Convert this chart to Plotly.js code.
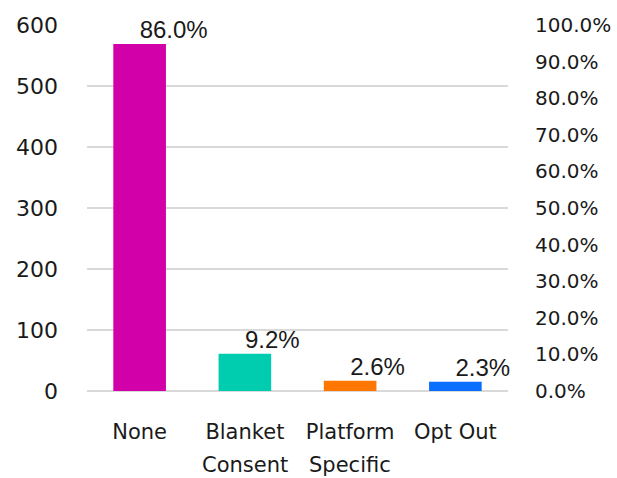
<!DOCTYPE html>
<html>
<head>
<meta charset="utf-8">
<script src="https://cdn.plot.ly/plotly-3.0.1.min.js"></script>
<style>html,body{margin:0;padding:0;background:#fff;}</style>
</head>
<body>
<div id="chart" style="width:617px;height:478px;"></div>
<script>
var categories = ["None", "Blanket Consent", "Platform Specific", "Opt Out"];
var tickLine1 = ["None", "Blanket", "Platform", "Opt Out"];
var tickLine2 = ["", "Consent", "Specific", ""];
var counts = [569, 61, 17, 15];
var pctLabels = ["86.0%", "9.2%", "2.6%", "2.3%"];
var barColors = ["#D100A8", "#00CCB0", "#FF7700", "#0A6EFF"];

var leftFont = {family: "'DejaVu Sans', sans-serif", size: 22, color: "#1a1a1a"};
var rightFont = {family: "'DejaVu Sans', sans-serif", size: 20, color: "#1a1a1a"};
var catFont = {family: "'DejaVu Sans', sans-serif", size: 21, color: "#1a1a1a"};

var bars = {
  type: "bar",
  x: categories,
  y: counts,
  marker: {color: barColors},
  hoverinfo: "skip",
  xaxis: "x",
  yaxis: "y"
};

var labels = {
  type: "scatter",
  mode: "text",
  x: categories,
  y: counts,
  text: pctLabels,
  textposition: "top right",
  textfont: {family: "'Liberation Sans', Arial, sans-serif", size: 24, color: "#1a1a1a"},
  hoverinfo: "skip",
  cliponaxis: false,
  xaxis: "x",
  yaxis: "y"
};

var pctAxisDummy = {
  type: "scatter",
  mode: "none",
  x: [categories[0]],
  y: [0],
  xaxis: "x",
  yaxis: "y2",
  hoverinfo: "skip"
};

var secondLine = [];
for (var i = 0; i < categories.length; i++) {
  if (tickLine2[i]) {
    secondLine.push({
      xref: "x", yref: "paper",
      x: categories[i], y: 0,
      xanchor: "center", yanchor: "top",
      yshift: -60,
      showarrow: false,
      text: tickLine2[i],
      font: catFont
    });
  }
}

var layout = {
  width: 617,
  height: 478,
  margin: {l: 87, r: 109, t: 25, b: 87},
  paper_bgcolor: "#ffffff",
  plot_bgcolor: "#ffffff",
  showlegend: false,
  bargap: 0.5,
  annotations: secondLine,
  xaxis: {
    type: "category",
    categoryorder: "array",
    categoryarray: categories,
    tickvals: categories,
    ticktext: tickLine1,
    tickfont: catFont,
    showgrid: false,
    showline: false,
    zeroline: false,
    ticks: "",
    ticklabelstandoff: 26
  },
  yaxis: {
    range: [0, 600],
    dtick: 100,
    tick0: 0,
    tickfont: leftFont,
    showgrid: true,
    gridcolor: "#d9d9d9",
    gridwidth: 1.5,
    zeroline: true,
    zerolinecolor: "#d9d9d9",
    zerolinewidth: 1.5,
    showline: false,
    ticks: "",
    ticklabelstandoff: 28,
    fixedrange: true
  },
  yaxis2: {
    overlaying: "y",
    side: "right",
    range: [0, 1],
    dtick: 0.1,
    tick0: 0,
    tickformat: ".1%",
    tickfont: rightFont,
    showgrid: false,
    zeroline: false,
    showline: false,
    ticks: "",
    ticklabelstandoff: 26,
    fixedrange: true
  }
};

Plotly.newPlot("chart", [bars, labels, pctAxisDummy], layout, {displayModeBar: false, staticPlot: true});
</script>
</body>
</html>
